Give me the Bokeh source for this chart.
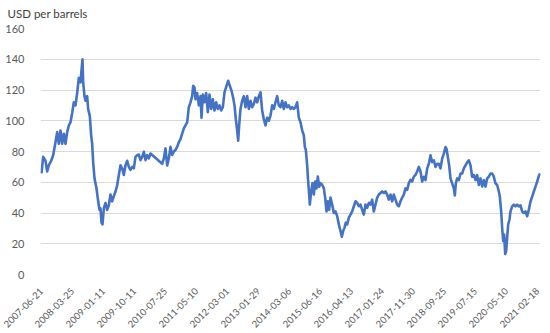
import numpy as np
from bokeh.plotting import figure
from bokeh.models import FixedTicker
from bokeh.embed import file_html
from bokeh.resources import INLINE

# Category labels (every 93rd observation on the category axis)
tick_labels = ["2007-06-21", "2008-03-25", "2009-01-11", "2009-10-11", "2010-07-25",
               "2011-05-10", "2012-03-01", "2013-01-29", "2014-03-06", "2015-06-16",
               "2016-04-13", "2017-01-24", "2017-11-30", "2018-09-25", "2019-07-15",
               "2020-05-10", "2021-02-18"]
label_step = 93

obs = [0, 5, 12, 17, 22, 29, 35, 42, 47, 52, 57, 62, 67, 72, 77, 82, 87, 92, 97, 102,
       107, 112, 117, 120, 123, 125, 129, 132, 137, 140, 145, 149, 152, 155, 159, 165, 170, 174, 177, 180,
       183, 187, 192, 197, 202, 207, 212, 217, 222, 227, 232, 237, 242, 247, 252, 257, 262, 267, 272, 277,
       282, 287, 292, 297, 302, 307, 312, 317, 322, 327,
       362, 367, 372, 377, 382, 387, 392, 397, 402, 407, 412, 417, 422, 427, 432, 437, 442, 447, 452, 455,
       459, 462, 467, 472, 477, 480, 484, 489, 494, 499, 504, 509, 514, 519, 524, 529, 534, 539, 544, 549,
       555, 560, 565, 570, 575, 579, 583, 587, 590, 593, 597, 602, 607, 612, 617, 622, 627, 632, 637, 642,
       647, 652, 657, 662, 667, 672, 677, 682, 687, 692, 697, 702, 707, 712, 717, 722, 727, 732, 737, 742,
       747, 752, 757, 762, 767, 772,
       777, 782, 787, 790, 793, 797, 800, 803, 805, 809, 813, 817, 821, 825, 829, 833, 837, 842, 847, 851,
       855, 859, 863, 867, 872, 877, 882, 887, 892, 897, 901, 905, 909, 913, 917, 922, 927, 932, 937, 942,
       947, 952, 957, 962, 967, 972, 977, 982, 987, 992, 997, 1002, 1007, 1012, 1017, 1022, 1027, 1032, 1037, 1042,
       1047, 1052, 1057, 1062, 1067, 1072, 1077, 1082, 1087, 1092, 1097, 1102, 1107, 1112, 1117, 1122, 1127, 1132, 1137,
       1142, 1147, 1152, 1157, 1162, 1167, 1172, 1177, 1182, 1187, 1192, 1197, 1202, 1207, 1212, 1215, 1219, 1223, 1227, 1232,
       1237, 1240, 1243, 1247, 1252, 1257, 1262, 1267, 1272, 1277, 1282, 1287, 1292, 1297, 1302, 1307, 1312, 1317, 1322, 1327,
       1332, 1337, 1342, 1347, 1352, 1357, 1362, 1367, 1372, 1375, 1379, 1382, 1385, 1388, 1391, 1394, 1397, 1400, 1404, 1407,
       1412, 1417, 1422, 1427, 1432, 1437, 1442, 1447, 1452, 1457, 1462, 1467, 1472, 1477, 1482, 1487, 1492, 1496]

price = [65.8, 76.5, 74, 67, 71, 74, 77.6, 86, 92.6, 85, 93.7, 85, 91.5, 85, 92.6, 97, 99, 105, 112, 110,
         118, 128, 125, 133, 140, 125, 116, 113, 116, 107.6, 103, 90.5, 85, 73, 62.6, 56, 47.6, 42, 43, 33.7,
         32.6, 43, 46.5, 42, 45, 52, 47.6, 51, 54, 58, 64.7, 71, 69, 64.7, 71, 74, 70, 68, 70, 69,
         76.5, 77.6, 78, 74.4, 76.5, 79.8, 74.4, 77.6, 75.5, 78.7,
         72, 75.5, 82, 71, 75.5, 83, 77.7, 80, 81, 83, 86, 88, 91.6, 95, 97, 99, 108.8, 112, 116, 122.7,
         121.7, 114, 118, 110, 116, 102, 117, 112, 118, 105.6, 117, 107.7, 114, 106.7, 112, 107.7, 110, 106.7, 108.8, 118.5,
         122.7, 126, 122.7, 119.5, 115, 110, 101, 93.8, 87, 97, 107.7, 113, 116, 108.8, 116, 107.7, 113, 108.8, 111, 115,
         112, 116, 118.5, 106.7, 101, 97, 102, 100, 103.4, 110, 107.7, 112, 116, 110, 108.8, 113, 107.7, 112, 108.8, 110,
         107.7, 108.8, 107.7, 108.8, 112, 102,
         99, 93.8, 90.5, 83, 81, 71, 60.5, 52, 45.5, 54, 59.4, 52, 60.5, 56, 63.7, 57, 59.4, 58.4, 56, 50,
         41, 47.6, 42, 50, 45.5, 40, 41, 38, 32.6, 28.3, 24.5, 28.3, 30.5, 33.7, 32.6, 37, 39, 41, 44.4, 47.6,
         46.6, 44.4, 45.5, 42, 39, 45.5, 43.3, 46.6, 45.5, 48.7, 41, 45.5, 50, 52, 53, 54, 53, 54, 52, 48.7,
         52, 47.6, 52, 48.7, 45.5, 44.4, 47.6, 50, 52, 56, 55, 59.4, 61.6, 60.5, 63.7, 64.8, 67, 70, 67,
         60.4, 63.6, 61.4, 69, 72, 77.5, 73, 74.3, 70, 72, 72, 69, 75.4, 78.6, 82.9, 81.8, 76.4, 71, 62.5, 59.3,
         56, 51.4, 59.3, 62.5, 61.4, 65.7, 65.7, 69, 71, 73, 74.3, 71, 63.6, 64.7, 61.4, 64.7, 58.2, 62.5, 57.2, 61.4,
         57.2, 62.5, 63.6, 65.7, 65.7, 63.6, 59.3, 58.2, 54, 50.7, 41, 30.4, 21.8, 26, 13.3, 15.4, 24, 32.5, 35.8, 41,
         44.3, 45.4, 44.3, 45.4, 44.3, 45, 41, 40, 41, 37.9, 42.2, 47.5, 50.7, 54, 57.2, 60.4, 64.2, 65.7]

y_ticks = [0, 20, 40, 60, 80, 100, 120, 140, 160]
y_title = "USD per barrels"

tick_pos = [i * label_step for i in range(len(tick_labels))]

p = figure(width=542, height=333, output_backend="svg", toolbar_location=None,
           x_range=(-3, 1497), y_range=(0, 160), title=y_title,
           min_border_left=40, min_border_right=2, min_border_top=28, min_border_bottom=56)
p.outline_line_color = None
p.background_fill_color = "white"
p.border_fill_color = "white"

p.title.align = "left"
p.title.vertical_align = "top"
p.title.offset = -33
p.title.standoff = 13
p.title.text_font = "Lato"
p.title.text_font_size = "11.5px"
p.title.text_font_style = "normal"
p.title.text_color = "#404040"

p.line(obs, price, line_color="#4472C4", line_width=2.6, line_join="round")

# axes
p.yaxis.ticker = FixedTicker(ticks=y_ticks)
p.xaxis.ticker = FixedTicker(ticks=tick_pos)
p.xaxis.major_label_overrides = {tp: lab for tp, lab in zip(tick_pos, tick_labels)}
p.xaxis.major_label_orientation = np.pi / 4
for ax in (p.xaxis, p.yaxis):
    ax.axis_line_color = None
    ax.major_tick_line_color = None
    ax.minor_tick_line_color = None
    ax.major_label_text_color = "#595959"
    ax.major_label_text_font = "Lato"
p.yaxis.major_label_text_font_size = "11px"
p.yaxis.major_label_standoff = 10
p.xaxis.major_label_text_font_size = "9.5px"
p.xaxis.major_label_standoff = 9

p.xgrid.grid_line_color = None
p.ygrid.grid_line_color = "#D9D9D9"
p.ygrid.grid_line_width = 1

open("out.html", "w").write(file_html(p, INLINE))
